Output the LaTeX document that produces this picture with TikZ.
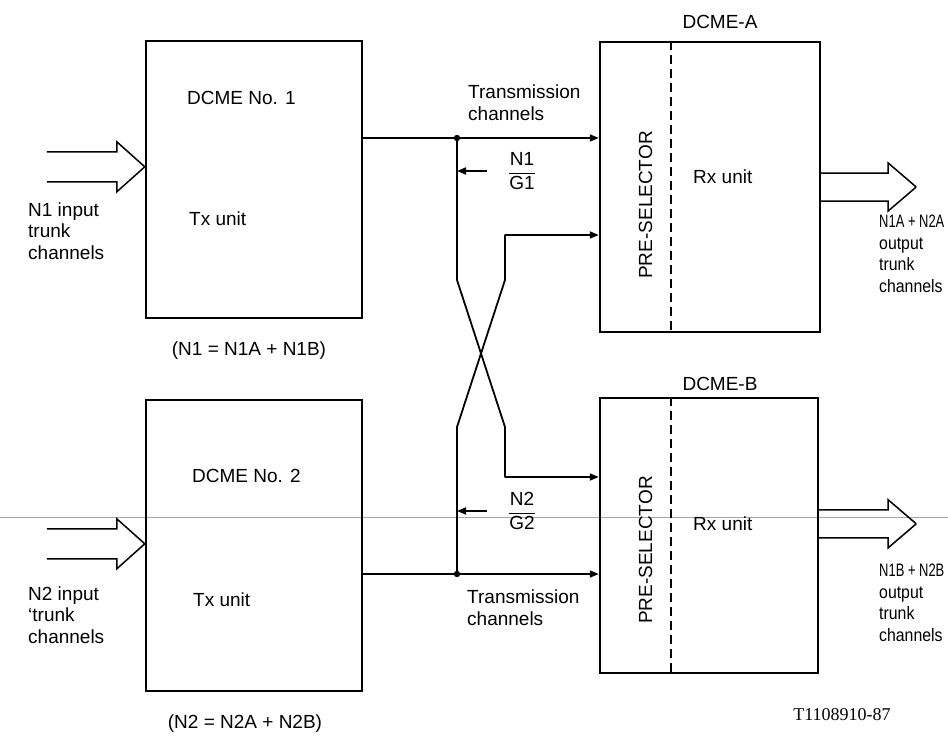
\documentclass[tikz,border=0pt]{standalone}
\usepackage{fontspec}
\setmainfont{Liberation Sans}
\newfontfamily\tightfont[FakeStretch=0.72]{Liberation Sans}
\newfontfamily\narrowfont[FakeStretch=0.88]{Liberation Sans}
\newfontfamily\tagfont{Liberation Serif}
\usetikzlibrary{arrows.meta}
\tikzset{
  unit/.style={draw, rectangle, line width=2.4pt, inner sep=0pt},
  lbl/.style={inner sep=0pt, font=\fontsize{19}{21.5}\selectfont, align=left},
  outlbl/.style={inner sep=0pt, font=\narrowfont\fontsize{18}{21.5}\selectfont, align=left},
  link/.style={line width=1.8pt},
  tip/.style={-{Triangle[length=9pt,width=7pt]}},
  fat/.style={line width=1.5pt, line join=miter},
}
\begin{document}
\begin{tikzpicture}[x=1pt,y=-1pt]
\useasboundingbox (0,0) rectangle (948,736);
\draw[gray!70, line width=0.8pt] (0,517) -- (948,517);

% transmit side
\node[unit, minimum width=216, minimum height=277] (tx1) at (254,179.5) {};
\node[unit, minimum width=216, minimum height=291] (tx2) at (254,545.5) {};
% receive side
\node[unit, minimum width=220, minimum height=290] (rxa) at (710,187) {};
\node[unit, minimum width=218, minimum height=275] (rxb) at (709,535.5) {};
\draw[line width=1.4pt, dash pattern=on 9pt off 5pt] ([xshift=72pt]rxa.north west) -- ([xshift=72pt]rxa.south west);
\draw[line width=1.4pt, dash pattern=on 9pt off 5pt] ([xshift=72pt]rxb.north west) -- ([xshift=72pt]rxb.south west);

\node[lbl, anchor=base west] (t1) at (187,104) {DCME No. 1};
\node[lbl, anchor=base west] (u1) at (189,225) {Tx unit};
\node[lbl, anchor=base west] (t2) at (192,482) {DCME No. 2};
\node[lbl, anchor=base west] (u2) at (193,606) {Tx unit};
\node[lbl, anchor=base] (eq1) at (249,355) {(N1 = N1A + N1B)};
\node[lbl, anchor=base] (eq2) at (245,728) {(N2 = N2A + N2B)};
\node[lbl, anchor=base] (ta) at (720,28) {DCME-A};
\node[lbl, anchor=base] (tb) at (720,390) {DCME-B};
\node[lbl, rotate=90, anchor=base] (psa) at (652,205) {PRE-SELECTOR};
\node[lbl, rotate=90, anchor=base] (psb) at (652,550) {PRE-SELECTOR};
\node[lbl, anchor=base west] (ra) at (693,183) {Rx unit};
\node[lbl, anchor=base west] (rb) at (693,530) {Rx unit};

% multi-line labels sit on their last line
\node[lbl, anchor=base west] (in1t) at (28,259) {N1 input\\trunk\\channels};
\node[lbl, anchor=base west] (in2t) at (28,643) {N2 input\\`trunk\\channels};
\node[outlbl, anchor=base west] (out1t) at (879,292) {\tightfont N1A + N2A\\output\\trunk\\channels};
\node[outlbl, anchor=base west] (out2t) at (879,641) {\tightfont N1B + N2B\\output\\trunk\\channels};
\node[lbl, anchor=base west] (tc1) at (468,120) {Transmission\\channels};
\node[lbl, anchor=base west] (tc2) at (467,625) {Transmission\\channels};
\node[lbl] (f1) at (522,171) {$\displaystyle\frac{\mbox{N1}}{\mbox{G1}}$};
\node[lbl] (f2) at (522,511) {$\displaystyle\frac{\mbox{N2}}{\mbox{G2}}$};
\node[inner sep=0pt, font=\tagfont\fontsize{18}{20}\selectfont, anchor=base] (ref) at (842,720) {T1108910-87};

% trunk arrows in and out
\path (tx1.north west) ++(0,127) coordinate (in1);
\path (tx2.north west) ++(0,145) coordinate (in2);
\coordinate (out1) at ([xshift=95pt]rxa.east);
\path (rxb.north east) ++(97,127) coordinate (out2);
\draw[fat] (in1) -- ++(-28,-25) -- ++(0,10) -- ++(-70,0) (in1) -- ++(-28,25) -- ++(0,-10) -- ++(-70,0);
\draw[fat] (in2) -- ++(-28,-25) -- ++(0,10) -- ++(-70,0) (in2) -- ++(-28,25) -- ++(0,-10) -- ++(-70,0);
\draw[fat] (out1) -- ++(-28,-24) -- ++(0,10) -- ++(-67,0) (out1) -- ++(-28,24) -- ++(0,-10) -- ++(-67,0);
\draw[fat] (out2) -- ++(-28,-24) -- ++(0,10) -- ++(-69,0) (out2) -- ++(-28,24) -- ++(0,-10) -- ++(-69,0);

% transmission channels
\coordinate (j1) at (457,138);
\coordinate (j2) at (457,574);
\coordinate (k1) at (457,280);
\coordinate (k2) at (505,280);
\coordinate (k3) at (457,427);
\coordinate (k4) at (505,427);
\coordinate (a2) at (505,235);
\coordinate (b1) at (505,477);
\draw[link] (tx1.east |- j1) -- (j1);
\draw[link, tip] (j1) -- (j1 -| rxa.west);
\draw[link] (tx2.east |- j2) -- (j2);
\draw[link, tip] (j2) -- (j2 -| rxb.west);
\draw[link, tip, line join=round] (j1) -- (k1) -- (k4) -- (b1) -- (b1 -| rxb.west);
\draw[link, tip, line join=round] (j2) -- (k3) -- (k2) -- (a2) -- (a2 -| rxa.west);
\fill (j1) circle (3.2);
\fill (j2) circle (3.2);
\coordinate (p1) at (487,171);
\coordinate (p2) at (487,511);
\draw[link, tip] (p1) -- (p1 -| j1);
\draw[link, tip] (p2) -- (p2 -| j2);
\end{tikzpicture}
\end{document}
